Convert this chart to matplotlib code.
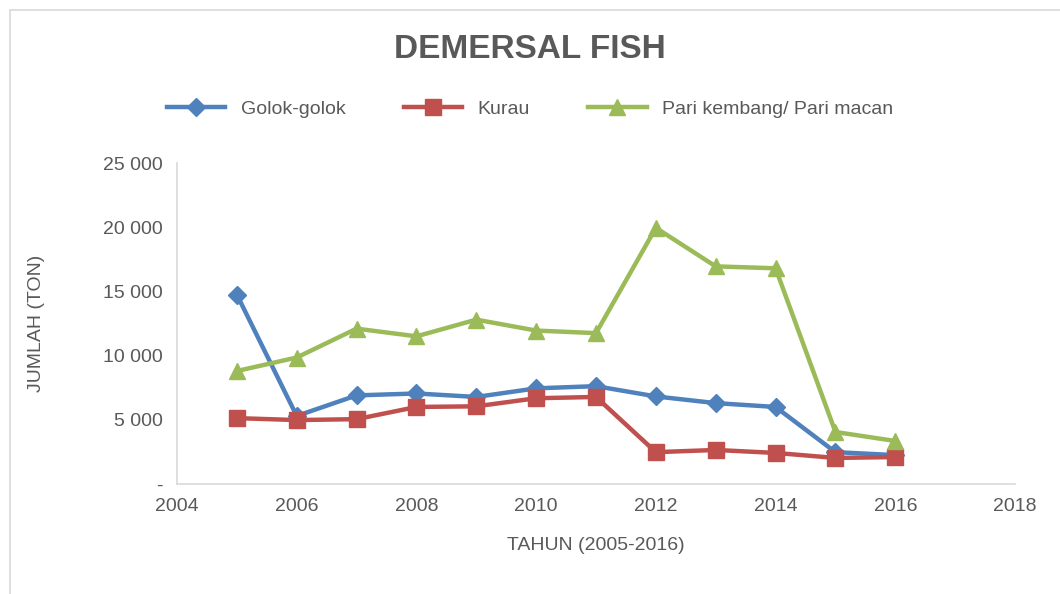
import matplotlib.pyplot as plt
from matplotlib.patches import Rectangle
from matplotlib.ticker import FuncFormatter

# Data
years = [2005, 2006, 2007, 2008, 2009, 2010, 2011, 2012, 2013, 2014, 2015, 2016]
golok = [14750, 5300, 6900, 7050, 6780, 7450, 7620, 6820, 6300, 6000, 2480, 2250]
kurau = [5130, 4980, 5050, 6000, 6050, 6680, 6780, 2480, 2650, 2420, 2030, 2100]
pari = [8800, 9850, 12100, 11500, 12800, 11950, 11750, 19950, 16950, 16800, 4050, 3350]

series_labels = ["Golok-golok", "Kurau", "Pari kembang/ Pari macan"]

text_color = '#595959'
plt.rcParams['font.family'] = ['Liberation Sans', 'DejaVu Sans']

fig = plt.figure(figsize=(10.6, 5.94), dpi=100)
ax = fig.add_axes([177/1060, 1 - 484/594, (1015 - 177)/1060, (484 - 163)/594])

# Cadre gris autour du graphique
fig.patches.append(Rectangle((10/1060, -0.05), 1.1, 0.05 + 1 - 10/594,
                             transform=fig.transFigure, fill=False,
                             edgecolor='#d9d9d9', linewidth=1.2))

ax.plot(years, golok, color='#4F81BD', linewidth=3.2, marker='D', markersize=9, label=series_labels[0])
ax.plot(years, kurau, color='#C0504D', linewidth=3.2, marker='s', markersize=11, label=series_labels[1])
ax.plot(years, pari, color='#9BBB59', linewidth=3.2, marker='^', markersize=12, label=series_labels[2])

ax.set_xlim(2004, 2018)
ax.set_ylim(0, 25000)
ax.set_xticks(range(2004, 2019, 2))
ax.set_yticks(range(0, 25001, 5000))
ax.yaxis.set_major_formatter(FuncFormatter(lambda v, p: "-" if v == 0 else f"{int(v):,}".replace(",", " ")))

for s in ['top', 'right']:
    ax.spines[s].set_visible(False)
for s in ['left', 'bottom']:
    ax.spines[s].set_color('#d9d9d9')
    ax.spines[s].set_linewidth(1.2)
ax.tick_params(length=0, labelsize=14, colors=text_color, pad=10)

ax.set_xlabel("TAHUN (2005-2016)", fontsize=14, color=text_color, labelpad=16)
ax.set_ylabel("JUMLAH (TON)", fontsize=14, color=text_color, labelpad=42)

fig.text(0.5, 1 - 50/594, "DEMERSAL FISH", ha='center', va='center',
         fontsize=24, fontweight='bold', color=text_color)

fig.legend(loc='center', bbox_to_anchor=(0.5, 1 - 109/594), ncol=3, frameon=False,
           fontsize=14, labelcolor=text_color, handlelength=3, columnspacing=3)

plt.savefig("out.png", dpi=100)
